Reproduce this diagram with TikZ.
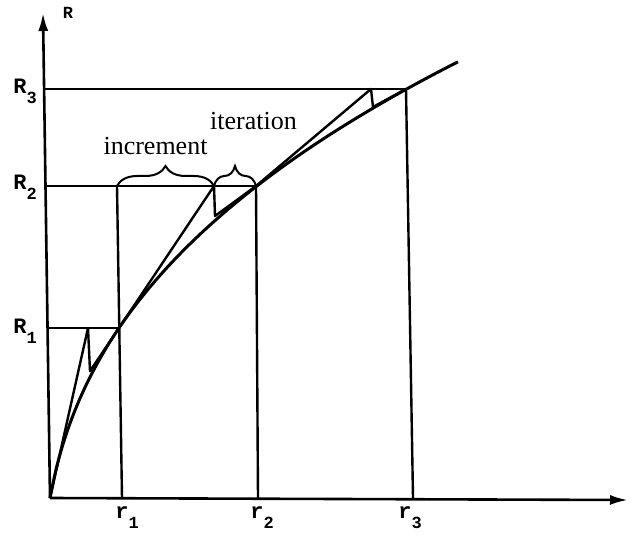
\documentclass[tikz,border=0pt]{standalone}
\usepackage{fontspec}
\setmainfont{Liberation Serif}
\setmonofont{Liberation Mono}
\usetikzlibrary{arrows.meta,decorations.pathreplacing}
\newcommand{\axsub}[2]{#1\raisebox{-5pt}{\fontsize{8.5}{9}\selectfont #2}}

\begin{document}
\begin{tikzpicture}[x=0.5pt,y=-0.5pt,
  axis/.style={line width=1.3pt,-{Latex[length=9pt,width=5pt]}},
  guide/.style={line width=1.2pt},
  iterline/.style={line width=1.2pt,line join=round},
  curve/.style={line width=1.5pt},
  brc/.style={decorate,decoration={brace,amplitude=10pt},line width=1pt},
  lbl/.style={font=\ttfamily\bfseries\fontsize{11}{12}\selectfont,inner sep=0pt,anchor=base west},
  word/.style={font=\fontsize{13}{15}\selectfont,inner sep=0pt,anchor=base}]
\useasboundingbox (0,0) rectangle (632,540);
\coordinate (O) at (50,498);
\coordinate (ytop) at (43,13);
\coordinate (xend) at (628,500);
\coordinate (T1) at (88,328); \coordinate (C1) at (90,371); \coordinate (P1) at (119,328);
\coordinate (T2) at (214,186); \coordinate (C2) at (215,216); \coordinate (P2) at (256,186);
\coordinate (T3) at (371,89); \coordinate (C3) at (373,107); \coordinate (P3) at (406,89);
\coordinate (A1) at (47,328); \coordinate (A2) at (46,186); \coordinate (A3) at (44,89);
\coordinate (B1) at (122,498); \coordinate (B2) at (258,498); \coordinate (B3) at (413,498);
\coordinate (U1) at (117,186);
\draw[axis] (O) -- (ytop);
\draw[axis] (O) -- (xend);
\draw[guide] (A1) -- (P1); \draw[guide] (A2) -- (P2); \draw[guide] (A3) -- (P3);
\draw[guide] (B1) -- (U1); \draw[guide] (B2) -- (P2); \draw[guide] (B3) -- (P3);
\draw[curve] plot[domain=0:408,samples=70,smooth] ({50+\x},{498-67.2*((\x+10)^0.36-2.291)});
\draw[iterline] (O) -- (T1) -- (C1) -- (P1);
\draw[iterline] (P1) -- (T2) -- (C2) -- (P2);
\draw[iterline] (P2) -- (T3) -- (C3) -- (P3);
\draw[brc] (U1) -- (T2);
\draw[brc] (T2) -- (P2);
\node[word] (incr) at (155.5,155) {increment};
\node[word] (iter) at (253.5,130) {iteration};
\node[lbl,font=\ttfamily\bfseries\fontsize{8.5}{9}\selectfont,anchor=center] (yname) at (68,13) {R};
\node[lbl] (lR3) at (13,94) {\axsub{R}{3}};
\node[lbl] (lR2) at (13,190) {\axsub{R}{2}};
\node[lbl] (lR1) at (13,333) {\axsub{R}{1}};
\node[lbl] (lr1) at (115,518) {\axsub{r}{1}};
\node[lbl] (lr2) at (250,518) {\axsub{r}{2}};
\node[lbl] (lr3) at (398,518) {\axsub{r}{3}};
\end{tikzpicture}
\end{document}
